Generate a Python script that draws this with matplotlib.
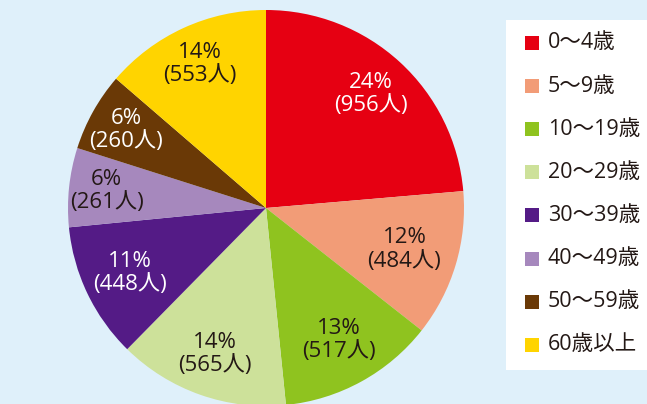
import numpy as np
import matplotlib.pyplot as plt
from matplotlib.patches import Rectangle

plt.rcParams['font.family'] = ['Open Sans', 'Noto Sans CJK JP', 'DejaVu Sans']

# age groups and counts (people)
categories = ['0〜4歳', '5〜9歳', '10〜19歳', '20〜29歳',
              '30〜39歳', '40〜49歳', '50〜59歳', '60歳以上']
counts = [956, 484, 517, 565, 448, 261, 260, 553]
percents = [24, 12, 13, 14, 11, 6, 6, 14]

colors = ['#E60012', '#F29C77', '#8FC31F', '#CDE19A',
          '#541B86', '#A688BD', '#6A3906', '#FFD400']
text_colors = ['white', '#231815', '#231815', '#231815',
               'white', '#231815', 'white', '#231815']

W, H = 647, 404
fig = plt.figure(figsize=(W / 100, H / 100), dpi=100)
fig.patch.set_facecolor('#DFF0FA')

# pie centred at (266, 208) px, radius 198 px
cx, cy, r = 266, 208, 198
ax = fig.add_axes([(cx - r) / W, (H - cy - r) / H, 2 * r / W, 2 * r / H])

wedges, texts = ax.pie(counts, colors=colors, startangle=90, counterclock=False,
                       radius=1, wedgeprops=dict(linewidth=0))
ax.set_xlim(-1, 1)
ax.set_ylim(-1, 1)
ax.set_aspect('auto')
ax.axis('off')

dists = [0.78, 0.73, 0.76, 0.78, 0.76, 0.81, 0.81, 0.80]
for w, p, n, tc, d in zip(wedges, percents, counts, text_colors, dists):
    ang = np.deg2rad((w.theta1 + w.theta2) / 2)
    ax.text(d * np.cos(ang), d * np.sin(ang), f'{p}%\n({n}人)',
            ha='center', va='center', color=tc, fontsize=16, linespacing=1.15)

# legend box
fig.patches.append(Rectangle((506 / W, (H - 370) / H), (W - 506) / W, 350 / H,
                             transform=fig.transFigure, facecolor='white',
                             edgecolor='none', zorder=0))
for i, (cat, col) in enumerate(zip(categories, colors)):
    yc = 43 + i * 43.1
    fig.patches.append(Rectangle((525 / W, (H - yc - 7) / H), 14 / W, 14 / H,
                                 transform=fig.transFigure, facecolor=col,
                                 edgecolor='none', zorder=1))
    fig.text(548 / W, (H - yc) / H, cat, ha='left', va='center',
             fontsize=15.5, color='#231815')

fig.savefig('out.png', dpi=100, facecolor=fig.get_facecolor())
